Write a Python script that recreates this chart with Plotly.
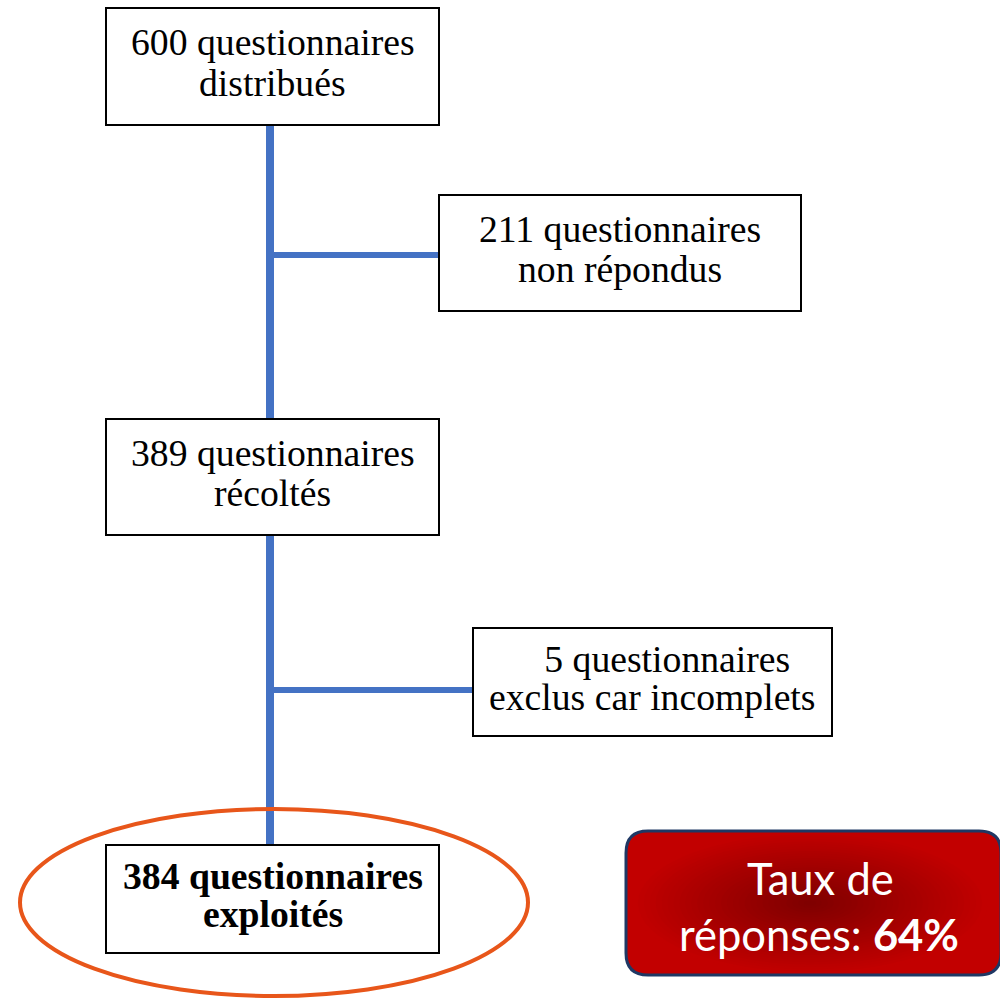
import plotly.graph_objects as go

# ---- data ----
counts = [600, 211, 389, 5, 384]
line1 = ["600 questionnaires", "211 questionnaires", "389 questionnaires",
         "   5 questionnaires", "384 questionnaires"]
line2 = ["distribués", "non répondus", "récoltés", "exclus car incomplets", "exploités"]
bold = [False, False, False, False, True]
rate_label = ["Taux de", "réponses: "]
rate_value = "64%"

# ---- layout geometry ----
boxes = [  # x0, x1, y0, y1
    (106, 439, 8, 125),
    (439, 801, 195, 311),
    (106, 439, 419, 535),
    (473, 832, 628, 736),
    (106, 439, 845, 953),
]
BLUE = "#4472C4"
shapes = []
# connectors
shapes.append(dict(type="line", x0=270, x1=270, y0=125, y1=419, line=dict(color=BLUE, width=8), layer="below"))
shapes.append(dict(type="line", x0=270, x1=439, y0=255, y1=255, line=dict(color=BLUE, width=6), layer="below"))
shapes.append(dict(type="line", x0=270, x1=270, y0=535, y1=845, line=dict(color=BLUE, width=8), layer="below"))
shapes.append(dict(type="line", x0=270, x1=473, y0=690, y1=690, line=dict(color=BLUE, width=6), layer="below"))

annotations = []
for (x0, x1, y0, y1), l1, l2, b in zip(boxes, line1, line2, bold):
    shapes.append(dict(type="rect", x0=x0, x1=x1, y0=y0, y1=y1,
                       line=dict(color="black", width=2), fillcolor="white"))
    cx = (x0 + x1) / 2
    h = y1 - y0
    fam = "Liberation Serif"
    for txt, yy in ((l1, y0 + h * 0.29), (l2, y0 + h * 0.64)):
        t = txt.replace(" ", "&nbsp;") if txt.startswith(" ") else txt
        if b:
            t = "<b>" + t + "</b>"
        annotations.append(dict(x=cx, y=yy, xref="x", yref="y", text=t, showarrow=False,
                                font=dict(family=fam, size=37.7, color="black"),
                                xanchor="center", yanchor="middle"))

# ellipse highlight
shapes.append(dict(type="circle", x0=20, x1=528, y0=809, y1=996,
                   line=dict(color="#E8561A", width=4), fillcolor="rgba(0,0,0,0)"))

# red rounded box with radial-like gradient
rx0, rx1, ry0, ry1, r = 626, 1001, 831, 975, 22
def rrect(x0, x1, y0, y1, r):
    return (f"M {x0+r},{y0} L {x1-r},{y0} Q {x1},{y0} {x1},{y0+r} L {x1},{y1-r} "
            f"Q {x1},{y1} {x1-r},{y1} L {x0+r},{y1} Q {x0},{y1} {x0},{y1-r} "
            f"L {x0},{y0+r} Q {x0},{y0} {x0+r},{y0} Z")
shapes.append(dict(type="path", path=rrect(rx0, rx1, ry0, ry1, r), fillcolor="#C20000",
                   line=dict(width=0)))
cxr, cyr = 810, 903
n = 30
for i in range(n):
    f = 1 - i / n
    hx, hy = 178 * f, 71 * f
    c0 = (194, 0, 0)
    c1 = (128, 0, 0)
    t = i / (n - 1)
    col = tuple(int(c0[k] + (c1[k] - c0[k]) * t) for k in range(3))
    shapes.append(dict(type="circle", x0=cxr - hx, x1=cxr + hx, y0=cyr - hy, y1=cyr + hy,
                       fillcolor="rgb(%d,%d,%d)" % col, line=dict(width=0), opacity=1))
shapes.append(dict(type="path", path=rrect(rx0, rx1, ry0, ry1, r), fillcolor="rgba(0,0,0,0)",
                   line=dict(color="#1F3864", width=3)))

annotations.append(dict(x=820, y=878, xref="x", yref="y", text=rate_label[0], showarrow=False,
                        font=dict(family="Lato", size=43.5, color="white"), xanchor="center", yanchor="middle"))
annotations.append(dict(x=819, y=934, xref="x", yref="y",
                        text=rate_label[1] + "<b>" + rate_value + "</b>", showarrow=False,
                        font=dict(family="Lato", size=43.5, color="white"), xanchor="center", yanchor="middle"))

fig = go.Figure()
fig.update_layout(
    width=1000, height=999, margin=dict(l=0, r=0, t=0, b=0),
    paper_bgcolor="white", plot_bgcolor="white",
    xaxis=dict(range=[0, 1000], visible=False, fixedrange=True),
    yaxis=dict(range=[999, 0], visible=False, fixedrange=True),
    shapes=shapes, annotations=annotations, showlegend=False,
)
fig.write_html("out.html", config={"displayModeBar": False},
               post_script="document.body.style.margin='0';")
